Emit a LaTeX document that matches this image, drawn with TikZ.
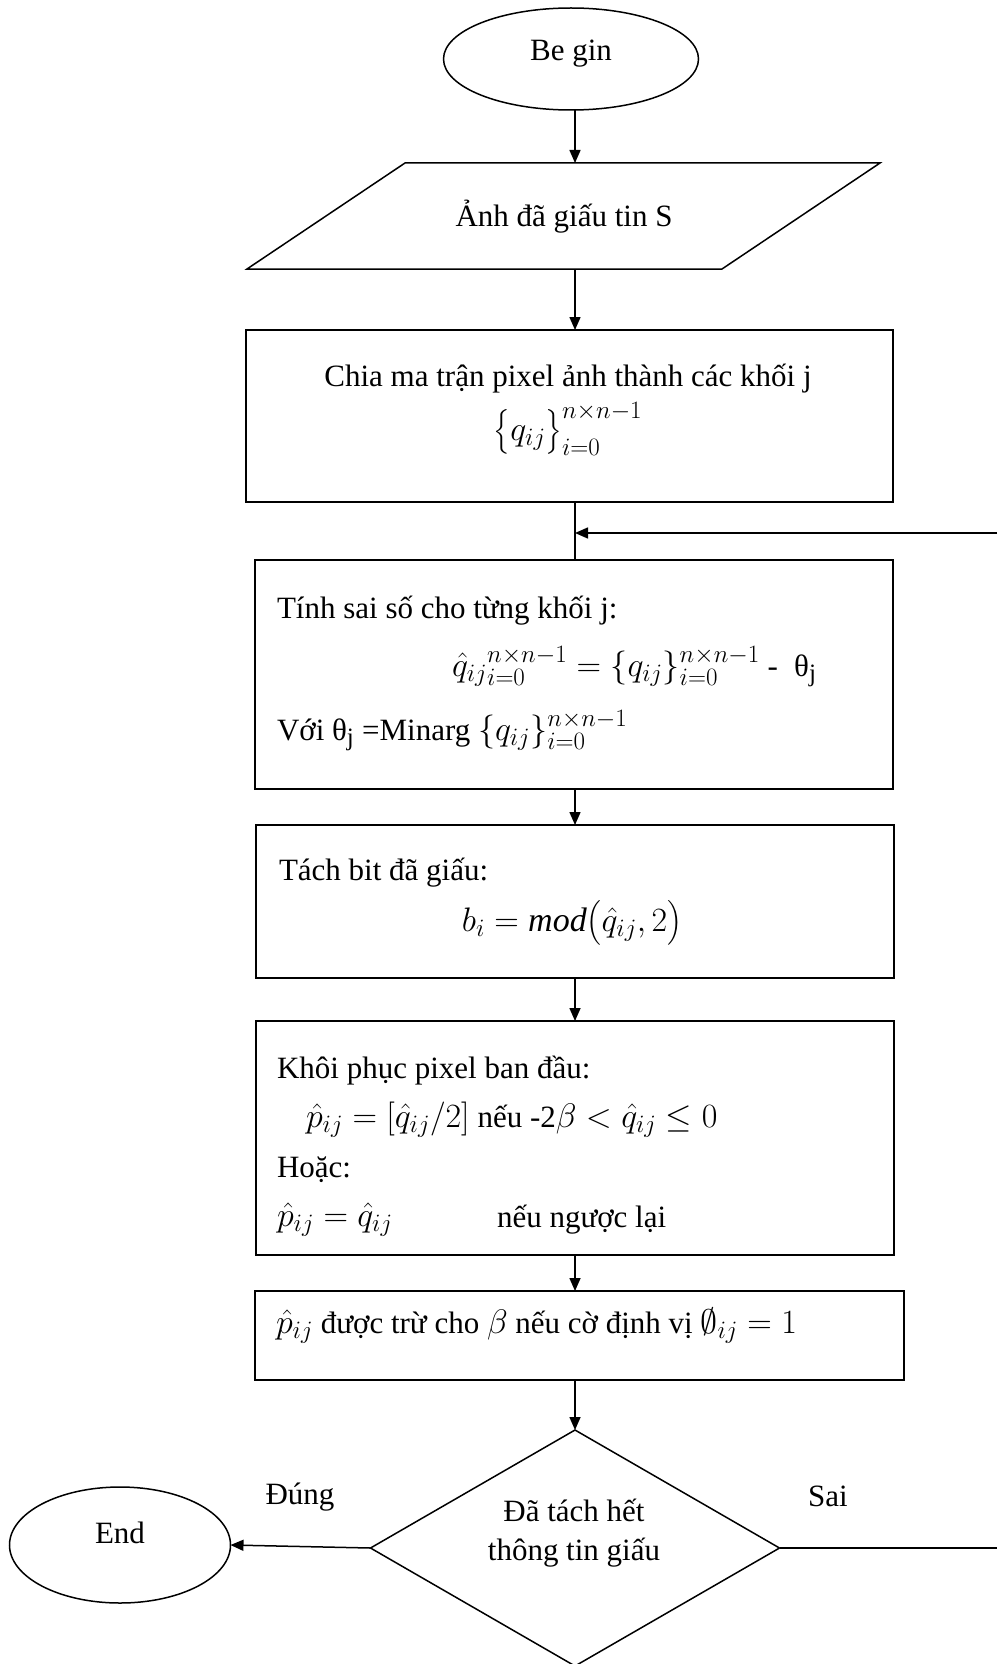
\RequirePackage{fix-cm}
\documentclass[tikz,border=0pt]{standalone}
\usepackage{amsmath}
\usepackage{fontspec}
\setmainfont{Liberation Serif}
\DeclareMathSizes{31}{34}{25}{19}
\usetikzlibrary{arrows.meta,shapes.geometric,calc}

\begin{document}
\begin{tikzpicture}[x=1pt,y=-1pt,
  every node/.style={font=\fontsize{31}{40}\selectfont, inner sep=0pt, outer sep=0pt},
  shp/.style={draw, line width=1.5pt},
  conn/.style={line width=1.5pt},
  arr/.style={conn, -{Triangle[length=13pt,width=11pt]}},
  lbl/.style={anchor=west},
]
\useasboundingbox (0,0) rectangle (997,1664);

% spine x
\coordinate (sp) at (575,0);

% Begin
\node[shp, ellipse, minimum width=255pt, minimum height=102pt] (begin) at (571,59) {};
\node (begint) at (571,54) {Be gin};

% parallelogram
\draw[shp] (405,163) -- (880,163) -- (722,269) -- (247,269) -- cycle;
\coordinate (paraT) at (575,163);
\coordinate (paraB) at (575,269);
\node (para) at (564,217) {Ảnh đã giấu tin S};

% boxes
\node[shp, rectangle, minimum width=647pt, minimum height=172pt] (b1) at (569.5,416) {};
\node[shp, rectangle, minimum width=638pt, minimum height=229pt] (b2) at (574,674.5) {};
\node[shp, rectangle, minimum width=638pt, minimum height=153pt] (b3) at (575,901.5) {};
\node[shp, rectangle, minimum width=638pt, minimum height=234pt] (b4) at (575,1138) {};
\node[shp, rectangle, minimum width=649pt, minimum height=89pt] (b5) at (579.5,1335.5) {};

% decision
\node[shp, diamond, aspect=1.733, minimum width=409pt, minimum height=236pt] (dec) at (575,1548) {};
\node[align=center, font=\fontsize{31}{39}\selectfont] (dect) at (574,1533) {Đã tách hết\\thông tin giấu};

% End
\node[shp, ellipse, minimum width=221pt, minimum height=116pt] (end) at (120,1545) {};
\node (endt) at (120,1533) {End};

% texts box1
\node (t1a) at (568,379) {Chia ma trận pixel ảnh thành các khối j};
\node (t1b) at (568,429) {$\bigl\{q_{ij}\bigr\}_{i=0}^{n\times n-1}$};

% texts box2
\node[lbl] (t2a) at (277,611) {Tính sai số cho từng khối j:};
\node[lbl] (t2b) at (452,667) {$\hat{q}_{ij}{}_{i=0}^{n\times n-1} = \{q_{ij}\}_{i=0}^{n\times n-1}$ -\; θ\textsubscript{j}};
\node[lbl] (t2c) at (277,731) {Với θ\textsubscript{j} =Minarg $\{q_{ij}\}_{i=0}^{n\times n-1}$};

% texts box3
\node[lbl] (t3a) at (279,873) {Tách bit đã giấu:};
\node (t3b) at (572,923) {$b_i = \mathit{mod}\bigl(\hat{q}_{ij},2\bigr)$};

% texts box4
\node[lbl] (t4a) at (277,1071) {Khôi phục pixel ban đầu:};
\node[lbl] (t4b) at (306,1120) {$\hat{p}_{ij} = [\hat{q}_{ij}/2]$ nếu -2$\beta < \hat{q}_{ij} \le 0$};
\node[lbl] (t4c) at (277,1170) {Hoặc:};
\node[lbl] (t4d) at (277,1220) {$\hat{p}_{ij} = \hat{q}_{ij}$};
\node[lbl] (t4e) at (497,1220) {nếu ngược lại};

% texts box5
\node[lbl] (t5) at (276,1326) {$\hat{p}_{ij}$ được trừ cho $\beta$ nếu cờ định vị $\emptyset_{ij} = 1$};

% labels
\node (yes) at (300,1497) {Đúng};
\node (no) at (828,1496) {Sai};

% connectors
\draw[arr] (begin.south -| sp) -- (paraT);
\draw[arr] (paraB) -- (b1.north -| sp);
\draw[conn] (b1.south -| sp) -- (b2.north -| sp);
\coordinate (loopR) at (997,533);
\draw[arr] (loopR) -- (loopR -| sp);
\draw[arr] (b2.south -| sp) -- (b3.north -| sp);
\draw[arr] (b3.south -| sp) -- (b4.north -| sp);
\draw[arr] (b4.south -| sp) -- (b5.north -| sp);
\draw[arr] (b5.south -| sp) -- (dec.north);
\draw[arr] (dec.west) -- (end.east);
\coordinate (saiR) at (997,1548);
\draw[conn] (dec.east) -- (saiR);
\end{tikzpicture}
\end{document}
